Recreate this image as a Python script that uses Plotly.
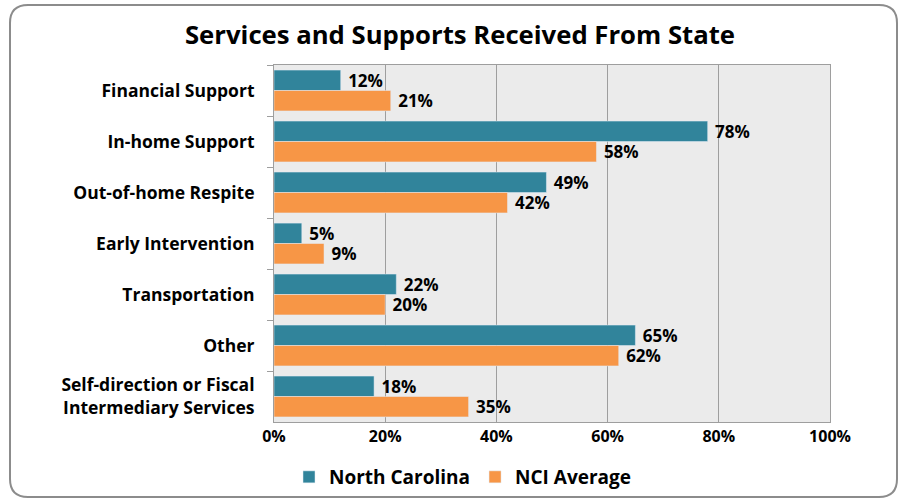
import plotly.graph_objects as go

categories = ["Financial Support", "In-home Support", "Out-of-home Respite",
              "Early Intervention", "Transportation", "Other",
              "Self-direction or Fiscal<br>Intermediary Services"]
north_carolina = [12, 78, 49, 5, 22, 65, 18]
nci_average = [21, 58, 42, 9, 20, 62, 35]
x_ticks = [0, 20, 40, 60, 80, 100]

FONT = "Open Sans"
W, H = 900, 502
L, R, T, B = 274, 70, 65, 80
pw, ph = W - L - R, H - T - B


# pixel -> paper coordinates
def px(x):
    return (x - L) / pw


def py(y):
    return (H - B - y) / ph


def label(v):
    return "\u00a0" + f"{v}%"


fig = go.Figure()
fig.add_trace(go.Bar(
    y=categories, x=north_carolina, orientation="h", name="North Carolina",
    marker=dict(color="#31849B"),
    text=[label(v) for v in north_carolina], textposition="outside",
    textfont=dict(family=FONT, size=17, color="#000000", weight="bold"),
    constraintext="none", cliponaxis=False,
))
fig.add_trace(go.Bar(
    y=categories, x=nci_average, orientation="h", name="NCI Average",
    marker=dict(color="#F79646"),
    text=[label(v) for v in nci_average], textposition="outside",
    textfont=dict(family=FONT, size=17, color="#000000", weight="bold"),
    constraintext="none", cliponaxis=False,
))

# rounded frame round the whole chart
x0, x1, y0, y1, r = 10, 897, 5, 497, 18
path = (f"M {px(x0 + r)},{py(y0)} L {px(x1 - r)},{py(y0)} "
        f"Q {px(x1)},{py(y0)} {px(x1)},{py(y0 + r)} "
        f"L {px(x1)},{py(y1 - r)} Q {px(x1)},{py(y1)} {px(x1 - r)},{py(y1)} "
        f"L {px(x0 + r)},{py(y1)} Q {px(x0)},{py(y1)} {px(x0)},{py(y1 - r)} "
        f"L {px(x0)},{py(y0 + r)} Q {px(x0)},{py(y0)} {px(x0 + r)},{py(y0)} Z")

fig.update_layout(
    width=W, height=H,
    margin=dict(l=L, r=R, t=T, b=B, autoexpand=False),
    paper_bgcolor="white", plot_bgcolor="#EBEBEB",
    barmode="group", bargap=0.2, bargroupgap=0,
    font=dict(family=FONT, color="#000000"),
    title=dict(text="<b>Services and Supports Received From State</b>",
               x=460 / W, xanchor="center", y=(H - 35) / H, yanchor="middle",
               font=dict(family=FONT, size=25.7, color="#000000")),
    legend=dict(orientation="h", x=463 / W, xanchor="center",
                xref="container", y=(H - 477) / H, yanchor="middle",
                yref="container",
                font=dict(family=FONT, size=19, weight="bold"),
                itemwidth=30, traceorder="normal"),
    shapes=[dict(type="path", xref="paper", yref="paper", path=path,
                 line=dict(color="#8C8C8C", width=2), layer="below")],
    xaxis=dict(range=[0, 100], tickvals=x_ticks,
               ticktext=[f"{v}%" for v in x_ticks],
               tickfont=dict(family=FONT, size=16, weight="bold"),
               showgrid=True, gridcolor="#9E9E9E", gridwidth=1,
               showline=True, linecolor="#9E9E9E", mirror=True,
               zeroline=False, ticks="", fixedrange=True),
    yaxis=dict(autorange="reversed",
               tickfont=dict(family=FONT, size=17.5, weight="bold"),
               showline=True, linecolor="#9E9E9E", mirror=True,
               ticks="outside", tickson="boundaries", ticklen=6,
               tickcolor="#9E9E9E", ticklabelstandoff=15, fixedrange=True),
)

# drop the browser's default body margin so the figure fills the window
fig.write_html("out.html", config={"displayModeBar": False}, post_script=(
    "document.body.style.margin='0';"
    "document.body.style.overflow='hidden';"))
